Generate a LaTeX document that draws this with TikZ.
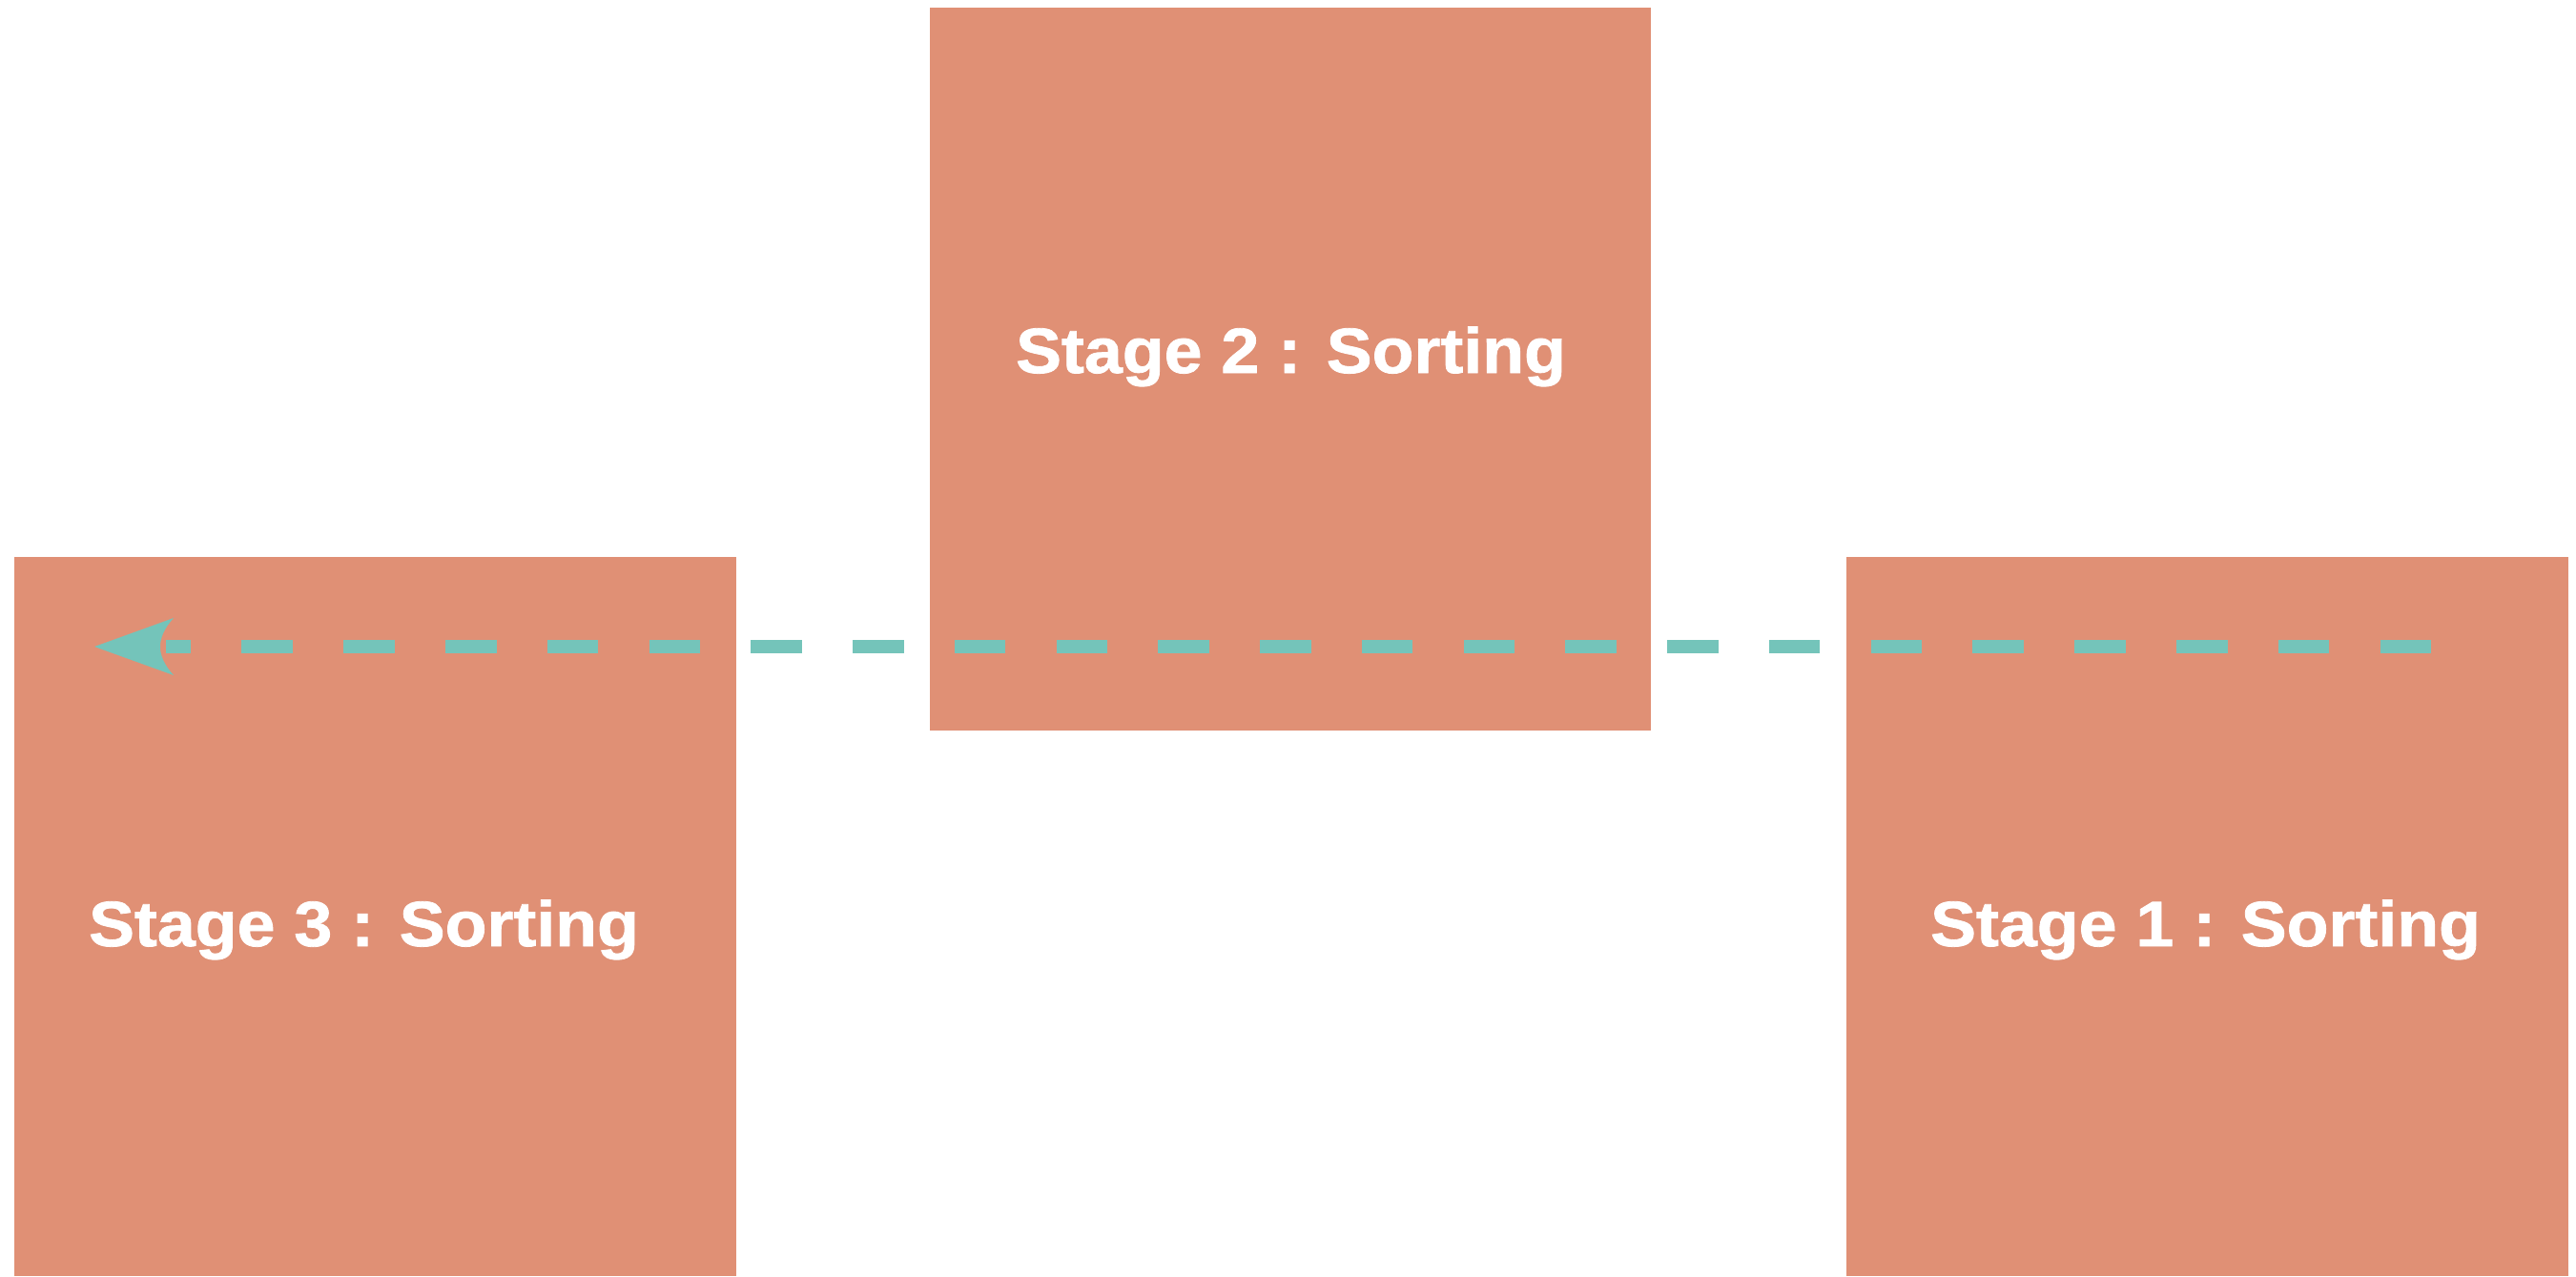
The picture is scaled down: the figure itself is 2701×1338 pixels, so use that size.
\documentclass[tikz,border=0pt]{standalone}
\usepackage{fontspec}
\newfontfamily\lblfont{Liberation Sans}[FakeStretch=1.07,FakeBold=1.2]
\definecolor{boxcol}{HTML}{E09075}
\definecolor{linecol}{HTML}{74C4BA}
\begin{document}
\begin{tikzpicture}[x=0.01cm,y=-0.01cm,
  stagebox/.style={rectangle, fill=boxcol, draw=none, inner sep=0pt, outer sep=0pt, anchor=north west},
  stagetext/.style={text=white, inner sep=0pt, anchor=base, font=\lblfont\bfseries\fontsize{19.07pt}{23pt}\selectfont},
  dashline/.style={draw=linecol, line width=0.14cm, dash pattern=on 0.535cm off 0.532cm}
]
\useasboundingbox (0,0) rectangle (2701,1338);
\fill[white] (0,0) rectangle (2701,1338);
% boxes
\node[stagebox, minimum width=7.56cm, minimum height=7.58cm] (s2) at (975,8) {};
\node[stagebox, minimum width=7.57cm, minimum height=7.54cm] (s3) at (15,584) {};
\node[stagebox, minimum width=7.57cm, minimum height=7.54cm] (s1) at (1936,584) {};
% connector
\coordinate (start) at (2549,678);
\coordinate (tip) at (99,678);
\draw[dashline, shorten >=0.75cm] (start) -- (tip);
\begin{scope}[shift={(tip)}]
  \fill[linecol] (0,0) -- (83,-30) .. controls (73,-19) and (69,-9) .. (69,0)
     .. controls (69,9) and (73,19) .. (83,30) -- cycle;
\end{scope}
% labels
\node[stagetext] (t2) at (1353.5,391) {Stage 2 : Sorting};
\node[stagetext] (t3) at (381.5,992) {Stage 3 : Sorting};
\node[stagetext] (t1) at (2312.5,992) {Stage 1 : Sorting};
\end{tikzpicture}
\end{document}
